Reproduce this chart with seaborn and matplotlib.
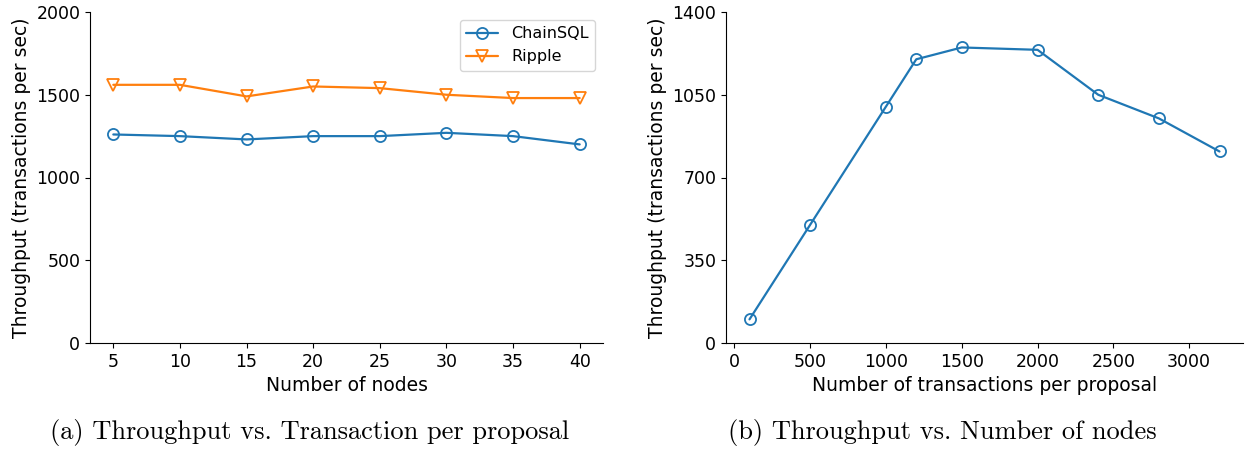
import pandas as pd
import matplotlib.pyplot as plt
import seaborn as sns

# --- Daten (a): Durchsatz vs. Anzahl Knoten ---
nodes = [5, 10, 15, 20, 25, 30, 35, 40]
chainsql_tps = [1260, 1250, 1230, 1250, 1250, 1270, 1250, 1200]
ripple_tps = [1560, 1560, 1490, 1550, 1540, 1500, 1480, 1480]

# --- Daten (b): Durchsatz vs. Transaktionen pro Proposal ---
tx_per_proposal = [100, 500, 1000, 1200, 1500, 2000, 2400, 2800, 3200]
proposal_tps = [100, 500, 1000, 1200, 1250, 1240, 1050, 950, 810]

df_chain = pd.DataFrame({'nodes': nodes, 'tps': chainsql_tps})
df_ripple = pd.DataFrame({'nodes': nodes, 'tps': ripple_tps})
df_b = pd.DataFrame({'tx': tx_per_proposal, 'tps': proposal_tps})

sns.set_style('ticks')
plt.rcParams['font.family'] = ['DejaVu Sans']
plt.rcParams['text.color'] = 'black'
plt.rcParams['axes.labelcolor'] = 'black'
plt.rcParams['xtick.color'] = 'black'
plt.rcParams['ytick.color'] = 'black'
plt.rcParams['axes.edgecolor'] = 'black'

fig = plt.figure(figsize=(12.45, 4.51), dpi=100)
ax1 = fig.add_axes([90 / 1245, 1 - 343 / 451, 513 / 1245, 331 / 451])
ax2 = fig.add_axes([726 / 1245, 1 - 343 / 451, 517 / 1245, 331 / 451])

blue, orange = sns.color_palette('tab10')[:2]
line_kw = dict(markerfacecolor='none', markeredgewidth=1.3, markersize=8, linewidth=1.6)

sns.lineplot(data=df_chain, x='nodes', y='tps', marker='o', color=blue,
             markeredgecolor=blue, label='ChainSQL', ax=ax1, **line_kw)
sns.lineplot(data=df_ripple, x='nodes', y='tps', marker='v', color=orange,
             markeredgecolor=orange, label='Ripple', ax=ax1, **line_kw)
ax1.set_ylim(0, 2000)
ax1.set_yticks([0, 500, 1000, 1500, 2000])
ax1.set_xticks(nodes)
ax1.set_xlabel('Number of nodes', fontsize=13.5)
ax1.set_ylabel('Throughput (transactions per sec)', fontsize=13.5)
ax1.legend(loc='upper right', fontsize=11.5)

sns.lineplot(data=df_b, x='tx', y='tps', marker='o', color=blue,
             markeredgecolor=blue, ax=ax2, **line_kw)
ax2.set_ylim(0, 1400)
ax2.set_yticks([0, 350, 700, 1050, 1400])
ax2.set_xticks([0, 500, 1000, 1500, 2000, 2500, 3000])
ax2.set_xlabel('Number of transactions per proposal', fontsize=13.5)
ax2.set_ylabel('Throughput (transactions per sec)', fontsize=13.5)

for ax in (ax1, ax2):
    sns.despine(ax=ax)
    ax.tick_params(labelsize=12.5)

# Bildunterschriften
fig.text(310 / 1245, 1 - 432 / 451, '(a) Throughput vs. Transaction per proposal',
         ha='center', va='center', fontsize=19, family=['cmr10', 'DejaVu Serif'])
fig.text(942 / 1245, 1 - 432 / 451, '(b) Throughput vs. Number of nodes',
         ha='center', va='center', fontsize=19, family=['cmr10', 'DejaVu Serif'])

fig.savefig('out.png', dpi=100)
